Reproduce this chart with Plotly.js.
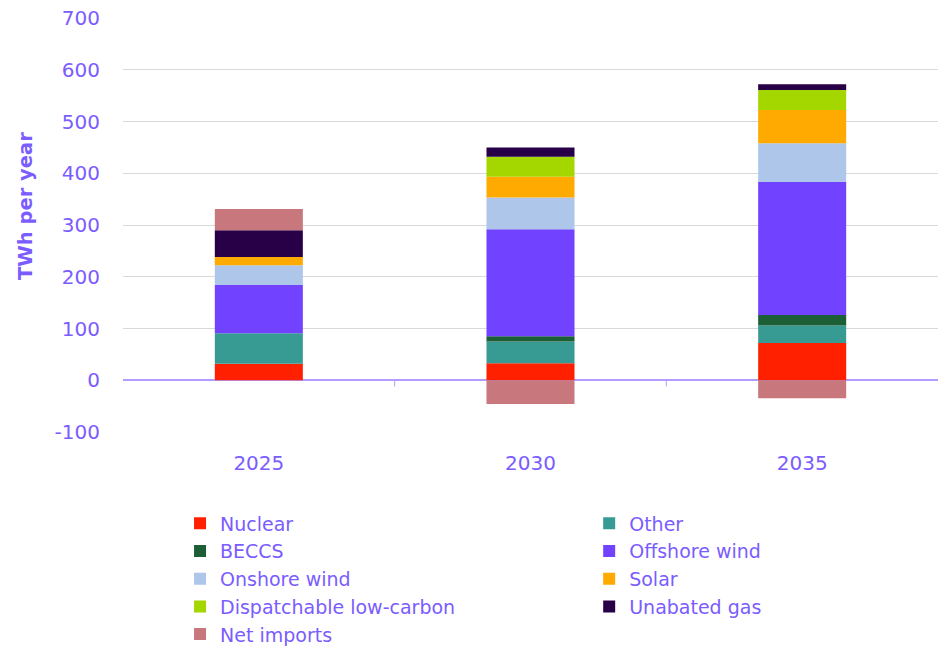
<!DOCTYPE html>
<html><head><meta charset="utf-8">
<script src="https://cdn.plot.ly/plotly-3.0.1.min.js"></script>
<style>body{margin:0;background:#fff}#c{width:939px;height:648px}</style>
</head><body><div id="c"></div>
<script>
const years = ['2025','2030','2035'];
const seriesNames = ['Nuclear','Other','BECCS','Offshore wind','Onshore wind','Solar','Dispatchable low-carbon','Unabated gas','Net imports'];
const nuclear = [32, 33, 72];
const other = [59, 42, 34];
const beccs = [0, 10, 20];
const offshoreWind = [93, 207, 257];
const onshoreWind = [38, 61, 75];
const solar = [16, 40, 64];
const dispatchable = [0, 39, 39];
const unabatedGas = [52, 18, 11];
const netImports = [41, -46, -35];
const yTicks = [-100, 0, 100, 200, 300, 400, 500, 600, 700];
const yTickLabels = ['-100', '0', '100', '200', '300', '400', '500', '600', '700'];

const values = [nuclear, other, beccs, offshoreWind, onshoreWind, solar, dispatchable, unabatedGas, netImports];
const colors = ['#ff2000','#379b94','#1c5e36','#7142ff','#adc6ea','#ffaa00','#a4d600','#280047','#c8777d'];
const txt = '#7a5cff';
const font = '"DejaVu Sans", sans-serif';

const traces = seriesNames.map((n, i) => ({
  type: 'bar', name: n, x: years, y: values[i],
  legend: (i % 2 === 0) ? 'legend' : 'legend2',
  marker: {color: colors[i], line: {width: 0}},
  hoverinfo: 'x+y+name'
}));

const legendBase = {orientation: 'v', xanchor: 'left', yanchor: 'top', y: -0.175,
  traceorder: 'normal', font: {size: 19, color: txt, family: font}, itemwidth: 30,
  bgcolor: 'rgba(0,0,0,0)'};

const layout = {
  width: 939, height: 648,
  barmode: 'relative', bargap: 0.676,
  paper_bgcolor: '#fff', plot_bgcolor: '#fff',
  margin: {l: 123, r: 1, t: 18, b: 216, autoexpand: false},
  font: {family: font, color: txt},
  xaxis: {type: 'category', showgrid: false, zeroline: false, showline: false,
    ticks: '', ticklabelstandoff: 17, tickfont: {size: 20, color: txt, family: font}},
  yaxis: {range: [-100, 700], tickvals: yTicks, ticktext: yTickLabels, showgrid: true, gridcolor: '#d9d9d9', gridwidth: 1,
    zeroline: true, zerolinecolor: '#b39cff', zerolinewidth: 2, showline: false, ticks: '',
    ticklabelstandoff: 22, tickfont: {size: 20, color: txt, family: font}},
  annotations: [{text: '<b>TWh per year</b>', textangle: -90, xref: 'paper', yref: 'paper',
    x: -0.119, y: 0.546, xanchor: 'center', yanchor: 'middle', showarrow: false,
    font: {size: 19.5, color: txt, family: font}}],
  legend: Object.assign({}, legendBase, {x: 0.070}),
  legend2: Object.assign({}, legendBase, {x: 0.572}),
  shapes: [0.5, 1.5].map(v => ({type: 'line', xref: 'x', yref: 'y', x0: v, x1: v, y0: 0, y1: -12,
    line: {color: '#b39cff', width: 1}}))
};
Plotly.newPlot('c', traces, layout, {displayModeBar: false, staticPlot: true});
</script></body></html>
